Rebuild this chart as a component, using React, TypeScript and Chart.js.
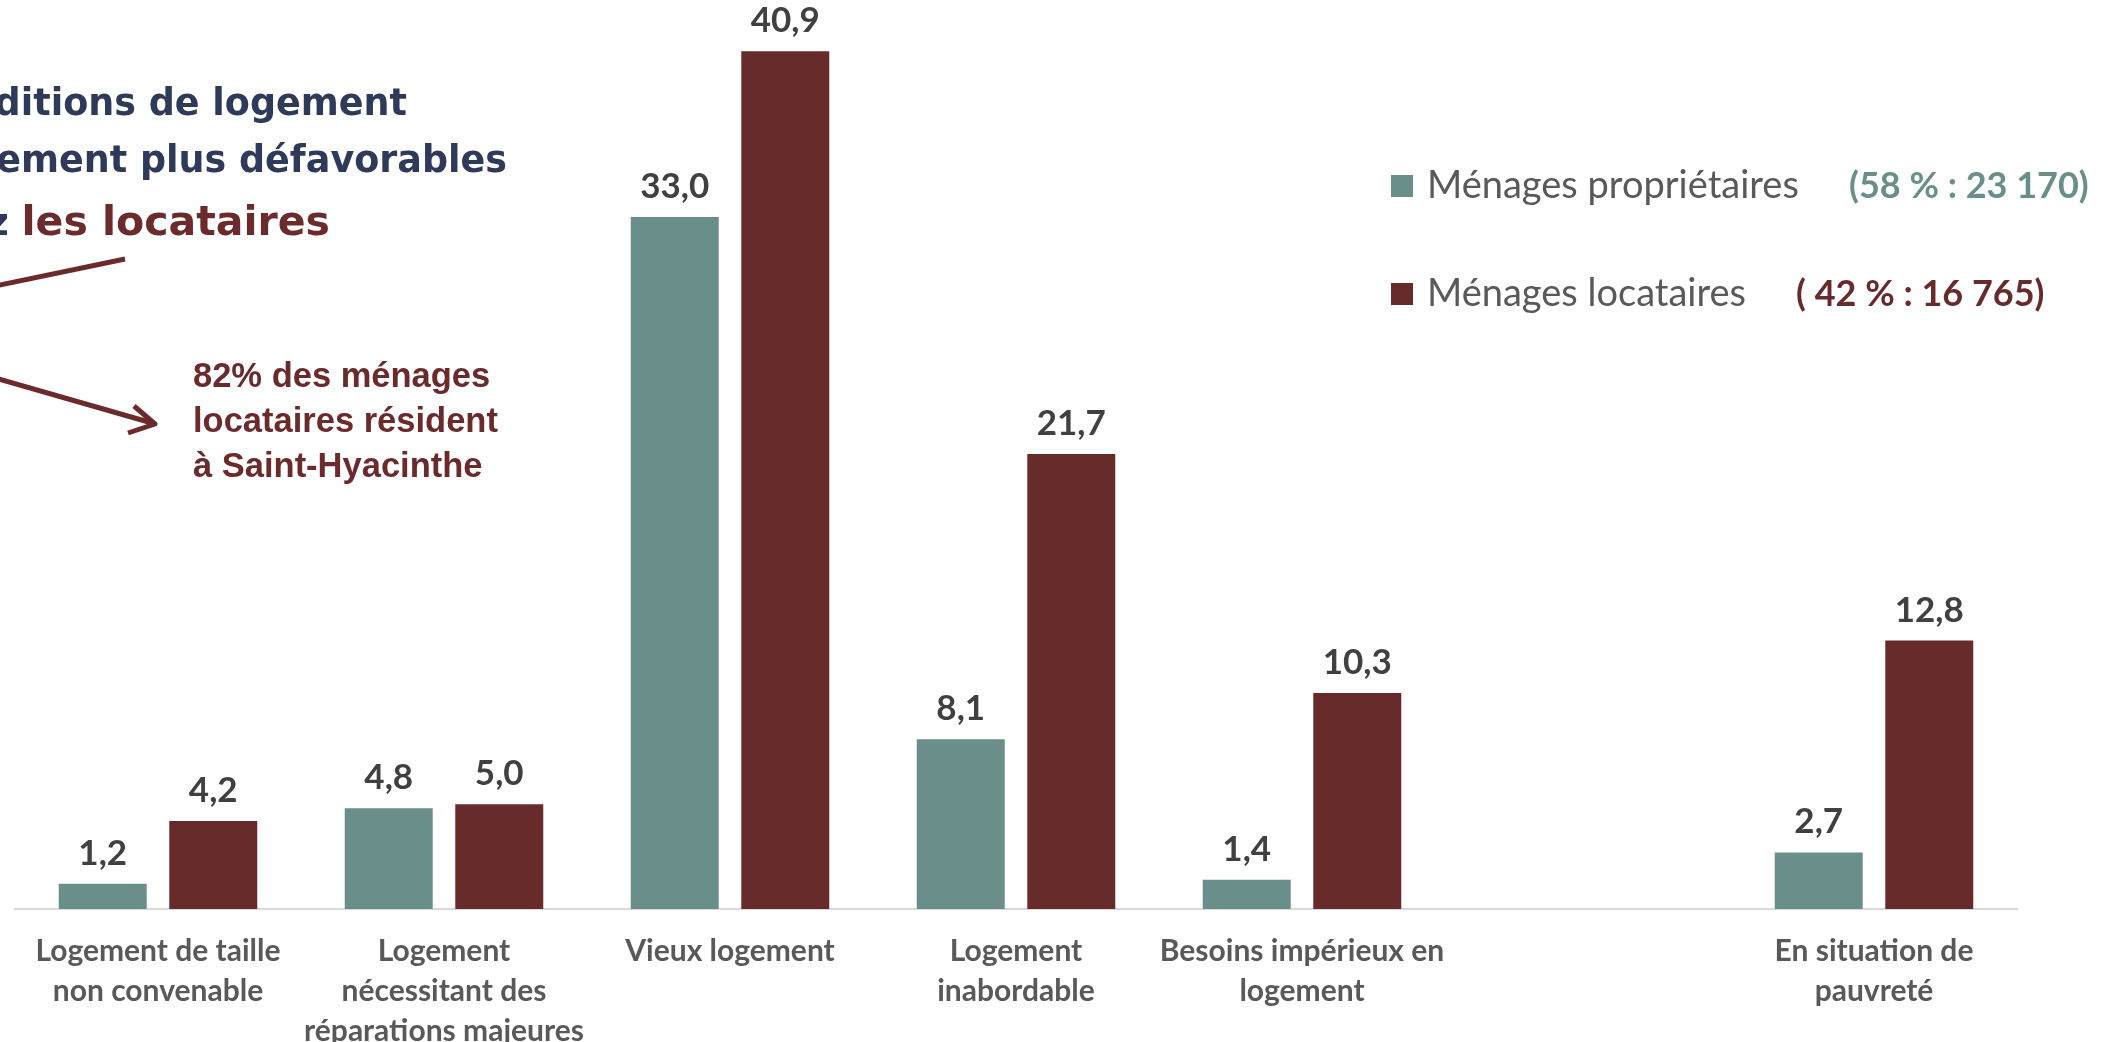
import React, { useEffect, useRef } from "react";
import { Chart, registerables } from "chart.js";

Chart.register(...registerables);

// ---------- data ----------
const categories: (string | string[])[] = [
  ["Logement de taille", "non convenable"],
  ["Logement", "nécessitant des", "réparations majeures"],
  ["Vieux logement"],
  ["Logement", "inabordable"],
  ["Besoins impérieux en", "logement"],
  "",
  ["En situation de", "pauvreté"],
];
const proprietaires: (number | null)[] = [1.2, 4.8, 33.0, 8.1, 1.4, null, 2.7];
const locataires: (number | null)[] = [4.2, 5.0, 40.9, 21.7, 10.3, null, 12.8];
const seriesNames = ["Ménages propriétaires", "Ménages locataires"];
const seriesShares = ["(58 % : 23 170)", "( 42 % : 16 765)"];
const titleLines = ["Conditions de logement", "généralement plus défavorables"];
const titleLast = ["chez ", "les locataires"];
const noteLines = ["82% des ménages", "locataires résident", "à Saint-Hyacinthe"];
const yMax = 43.35;

// ---------- styles ----------
const TEAL = "#6A8E8A";
const WINE = "#672B2C";
const NAVY = "#2F3A5A";
const NOTE_RED = "#6B2A2C";
const W = 2116;
const H = 1042;

const fmt = (v: number) => v.toFixed(1).replace(".", ",");

const valueLabels = {
  id: "valueLabels",
  afterDatasetsDraw(chart: any) {
    const ctx = chart.ctx;
    ctx.save();
    ctx.font = "bold 35px Lato";
    ctx.fillStyle = "#404040";
    ctx.textAlign = "center";
    ctx.textBaseline = "alphabetic";
    chart.data.datasets.forEach((ds: any, i: number) => {
      const meta = chart.getDatasetMeta(i);
      meta.data.forEach((bar: any, j: number) => {
        const v = ds.data[j];
        if (v == null) return;
        ctx.fillText(fmt(v), bar.x, bar.y - 19);
      });
    });
    ctx.restore();
  },
};

export default function App() {
  const ref = useRef<HTMLCanvasElement | null>(null);

  useEffect(() => {
    if (!ref.current) return;
    const chart = new Chart(ref.current, {
      type: "bar",
      data: {
        labels: categories,
        datasets: [
          {
            label: seriesNames[0],
            data: proprietaires,
            backgroundColor: TEAL,
            categoryPercentage: 0.773,
            barPercentage: 0.796,
          },
          {
            label: seriesNames[1],
            data: locataires,
            backgroundColor: WINE,
            categoryPercentage: 0.773,
            barPercentage: 0.796,
          },
        ],
      },
      options: {
        animation: false,
        responsive: false,
        layout: { padding: { left: 15, right: 99, top: 0, bottom: 0 } },
        plugins: {
          legend: { display: false },
          tooltip: { enabled: false },
        },
        scales: {
          x: {
            grid: { display: false, drawTicks: false },
            border: { display: true, color: "#D9D9D9", width: 2 },
            ticks: {
              color: "#595959",
              autoSkip: false,
              maxRotation: 0,
              padding: 23,
              font: { family: "Lato", size: 30, weight: "bold", lineHeight: 1.32 },
            },
            afterFit: (s: any) => {
              s.height = 133;
            },
          },
          y: { display: false, min: 0, max: yMax },
        },
      },
      plugins: [valueLabels],
    } as any);
    return () => chart.destroy();
  }, []);

  const legendRows = [
    { color: TEAL, name: seriesNames[0], share: seriesShares[0], squareTop: 175, base: 198, shareX: 1849 },
    { color: WINE, name: seriesNames[1], share: seriesShares[1], squareTop: 283, base: 306, shareX: 1796 },
  ];

  return (
    <div
      style={{
        position: "fixed",
        left: 0,
        top: 0,
        width: W,
        height: H,
        background: "#fff",
        overflow: "hidden",
      }}
    >
      <canvas ref={ref} width={W} height={H} style={{ position: "absolute", left: 0, top: 0 }} />
      <svg
        width={W}
        height={H}
        style={{ position: "absolute", left: 0, top: 0, pointerEvents: "none" }}
      >
        {/* title */}
        <g fontFamily="'DejaVu Sans'" fontWeight="bold" textAnchor="end">
          <text x={407} y={115} fontSize={36.5} fill={NAVY}>{titleLines[0]}</text>
          <text x={507} y={172} fontSize={36.5} fill={NAVY}>{titleLines[1]}</text>
          <text x={330} y={235}>
            <tspan fontSize={36.5} fill={NAVY}>{titleLast[0]}</tspan>
            <tspan fontSize={41} fill={NOTE_RED}>{titleLast[1]}</tspan>
          </text>
        </g>
        {/* arrows */}
        <g stroke={NOTE_RED} strokeWidth={5} fill="none" strokeLinejoin="round">
          <line x1={-5} y1={286} x2={125} y2={259} />
          <line x1={-5} y1={378} x2={152} y2={423} />
          <polyline points="134,406 155,424 128,433" />
        </g>
        {/* note */}
        <g fontFamily="'Liberation Sans'" fontWeight="bold" fontSize={34.5} fill={NOTE_RED}>
          {noteLines.map((t, i) => (
            <text key={i} x={193} y={387 + i * 45}>{t}</text>
          ))}
        </g>
        {/* legend */}
        {legendRows.map((r, i) => (
          <g key={i}>
            <rect x={1391} y={r.squareTop} width={22} height={22} fill={r.color} />
            <text x={1427} y={r.base} fontFamily="Lato" fontSize={38} fill="#595959">{r.name}</text>
            <text x={r.shareX} y={r.base} fontFamily="Lato" fontWeight="bold" fontSize={36} fill={r.color}>{r.share}</text>
          </g>
        ))}
      </svg>
    </div>
  );
}
